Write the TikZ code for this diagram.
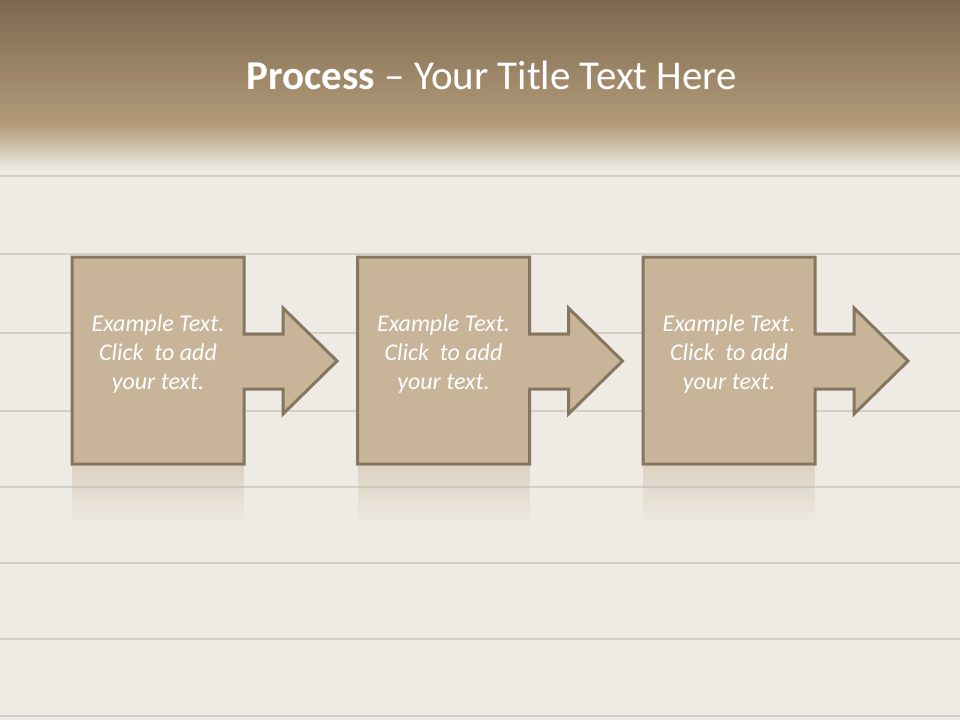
\documentclass[tikz,border=0pt]{standalone}
\usepackage{fontspec}
\setmainfont{Carlito}
\usetikzlibrary{fadings}
\definecolor{woodbg}{HTML}{EEEBE4}
\definecolor{plankline}{HTML}{D3CFC7}
\definecolor{bandtop}{HTML}{7C6950}
\definecolor{bandbot}{HTML}{B39B78}
\definecolor{boxfill}{HTML}{C8B498}
\definecolor{boxline}{HTML}{867660}
\tikzset{
	stepshape/.style={fill=boxfill, draw=boxline, line width=3pt, line join=miter},
	stepglow/.style={fill=boxfill, opacity=0.45, path fading=south},
	steptext/.style={text=white, font=\itshape\fontsize{24}{29}\selectfont, align=center},
}
\begin{document}
\begin{tikzpicture}[x=1pt,y=-1pt]
	\useasboundingbox (0,0) rectangle (960,720);
	\fill[woodbg] (0,0) rectangle (960,720);
	\foreach \y in {176,254,333,411,487,563,639,716}
		\draw[plankline, line width=1.5pt] (0,\y) -- (960,\y);
	\shade[top color=bandtop, bottom color=bandbot] (0,0) rectangle (960,125);
	\shade[top color=bandbot, bottom color=woodbg] (0,124.5) rectangle (960,170);
	\node[text=white, font=\fontsize{41}{48}\selectfont] (title) at (492,75) {\textbf{Process} – Your Title Text Here};
	\foreach \i/\x in {1/72,2/357.5,3/643} {
		\fill[stepglow] (\x,466) rectangle ++(172,58);
		\draw[stepshape] (\x,257) -- ++(172,0) -- ++(0,77) -- ++(39,0) -- ++(0,-26)
			-- ++(54,53) -- ++(-54,53) -- ++(0,-25) -- ++(-39,0) -- ++(0,75) -- ++(-172,0) -- cycle;
		\node[steptext] (step\i) at (\x+86,354) {Example Text.\\Click~ to add\\your text.};
	}
\end{tikzpicture}
\end{document}
